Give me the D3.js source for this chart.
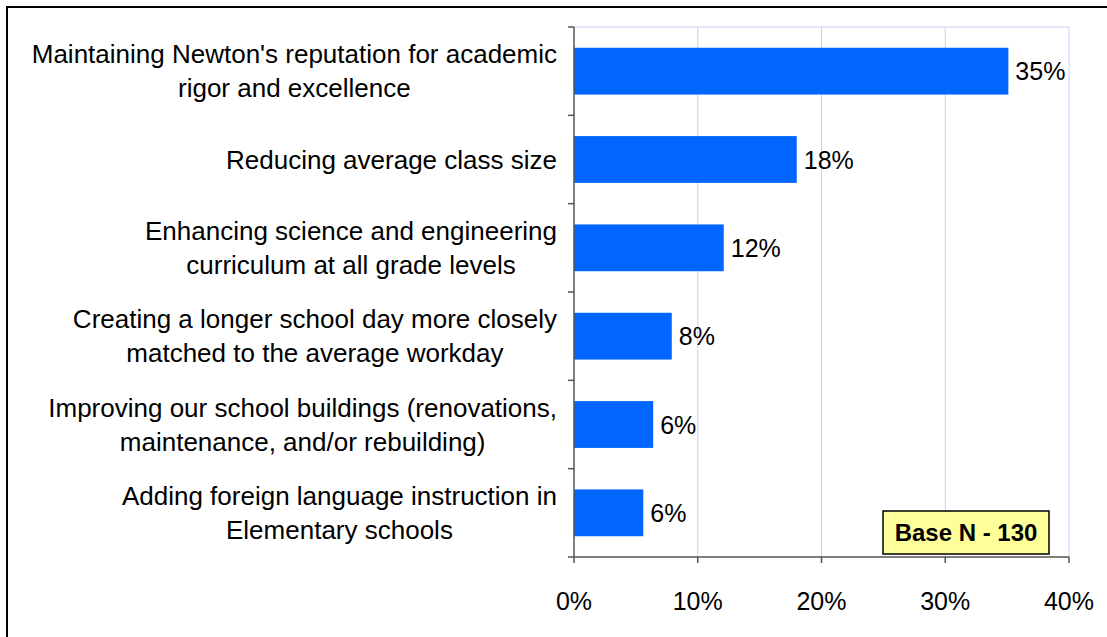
<!DOCTYPE html>
<html>
<head>
<meta charset="utf-8">
<script src="https://cdn.jsdelivr.net/npm/d3@7"></script>
<style>
  body { margin: 0; background: #fff; }
  text { font-family: "Liberation Sans", Arial, sans-serif; }
</style>
</head>
<body>
<script>
// data
var categories = [
  ["Maintaining Newton's reputation for academic", "rigor and excellence"],
  ["Reducing average class size"],
  ["Enhancing science and engineering", "curriculum at all grade levels"],
  ["Creating a longer school day more closely", "matched to the average workday"],
  ["Improving our school buildings (renovations,", "maintenance, and/or rebuilding)"],
  ["Adding foreign language instruction in", "Elementary schools"]
];
var values = [35.1, 18.0, 12.1, 7.9, 6.4, 5.6];
var xTicks = [0, 10, 20, 30, 40];
var baseNote = "Base N - 130";

var w = 1107, h = 637;
var pLeft = 574, pRight = 1069, pTop = 27, pBottom = 557;

var svg = d3.select("body").append("svg")
  .attr("width", w)
  .attr("height", h);

// outer frame (right/bottom run off the page)
svg.append("rect")
  .attr("x", 7).attr("y", 7)
  .attr("width", w + 10).attr("height", h + 10)
  .attr("fill", "white")
  .attr("stroke", "black")
  .attr("stroke-width", 2);

var x = d3.scaleLinear().domain([0, 40]).range([pLeft, pRight]);
var y = d3.scaleBand().domain(d3.range(categories.length)).range([pTop, pBottom]).paddingInner(0.47).paddingOuter(0.235);
var yEdge = d3.scaleLinear().domain([0, categories.length]).range([pTop, pBottom]);

// gridlines + plot border
svg.selectAll("line.grid")
  .data(xTicks.slice(1))
  .enter()
  .append("line")
  .attr("class", "grid")
  .attr("x1", function(d) { return x(d); })
  .attr("x2", function(d) { return x(d); })
  .attr("y1", pTop)
  .attr("y2", pBottom)
  .attr("stroke", "#ccccff")
  .attr("stroke-width", 1);
svg.append("line")
  .attr("x1", pLeft).attr("x2", pRight)
  .attr("y1", pTop).attr("y2", pTop)
  .attr("stroke", "#ccccff");

// bars
svg.selectAll("rect.bar")
  .data(values)
  .enter()
  .append("rect")
  .attr("class", "bar")
  .attr("x", x(0))
  .attr("y", function(d, i) { return y(i); })
  .attr("width", function(d) { return x(d) - x(0); })
  .attr("height", y.bandwidth())
  .attr("fill", "#0066ff");

// value labels
svg.selectAll("text.val")
  .data(values)
  .enter()
  .append("text")
  .attr("class", "val")
  .attr("x", function(d) { return x(d) + 7; })
  .attr("y", function(d, i) { return y(i) + y.bandwidth() / 2 + 9; })
  .attr("font-size", "25px")
  .attr("fill", "black")
  .text(function(d) { return Math.round(d) + "%"; });

// axes
svg.append("line")
  .attr("x1", pLeft).attr("x2", pLeft)
  .attr("y1", pTop).attr("y2", pBottom)
  .attr("stroke", "#555").attr("stroke-width", 1.5);
svg.append("line")
  .attr("x1", pLeft - 6).attr("x2", pRight)
  .attr("y1", pBottom).attr("y2", pBottom)
  .attr("stroke", "#555").attr("stroke-width", 1.5);

svg.selectAll("line.ytick")
  .data(d3.range(categories.length))
  .enter()
  .append("line")
  .attr("class", "ytick")
  .attr("x1", pLeft - 6).attr("x2", pLeft)
  .attr("y1", function(d) { return yEdge(d); })
  .attr("y2", function(d) { return yEdge(d); })
  .attr("stroke", "#555").attr("stroke-width", 1.5);

svg.selectAll("line.xtick")
  .data(xTicks)
  .enter()
  .append("line")
  .attr("class", "xtick")
  .attr("x1", function(d) { return x(d); })
  .attr("x2", function(d) { return x(d); })
  .attr("y1", pBottom).attr("y2", pBottom + 6)
  .attr("stroke", "#555").attr("stroke-width", 1.5);

svg.selectAll("text.xlab")
  .data(xTicks)
  .enter()
  .append("text")
  .attr("class", "xlab")
  .attr("x", function(d) { return x(d); })
  .attr("y", pBottom + 53)
  .attr("text-anchor", "middle")
  .attr("font-size", "25px")
  .text(function(d) { return d + "%"; });

// category labels, centred block right-aligned at the axis
categories.forEach(function(lines, i) {
  var g = svg.append("text")
    .attr("font-size", "26px")
    .attr("text-anchor", "middle");
  var cy = y(i) + y.bandwidth() / 2;
  var lh = 34;
  var y0 = cy - (lines.length - 1) * lh / 2 + 9;
  var spans = g.selectAll("tspan")
    .data(lines)
    .enter()
    .append("tspan")
    .attr("y", function(d, j) { return y0 + j * lh; })
    .text(function(d) { return d; });
  var maxW = 0;
  spans.each(function() { maxW = Math.max(maxW, this.getComputedTextLength()); });
  spans.attr("x", 557 - maxW / 2);
});

// base note
var note = svg.append("g");
note.append("rect")
  .attr("x", 883).attr("y", 511)
  .attr("width", 166).attr("height", 43)
  .attr("fill", "#ffff99")
  .attr("stroke", "black")
  .attr("stroke-width", 1.5);
note.append("text")
  .attr("x", 966).attr("y", 541)
  .attr("text-anchor", "middle")
  .attr("font-size", "24px")
  .attr("font-weight", "bold")
  .text(baseNote);
</script>
</body>
</html>
